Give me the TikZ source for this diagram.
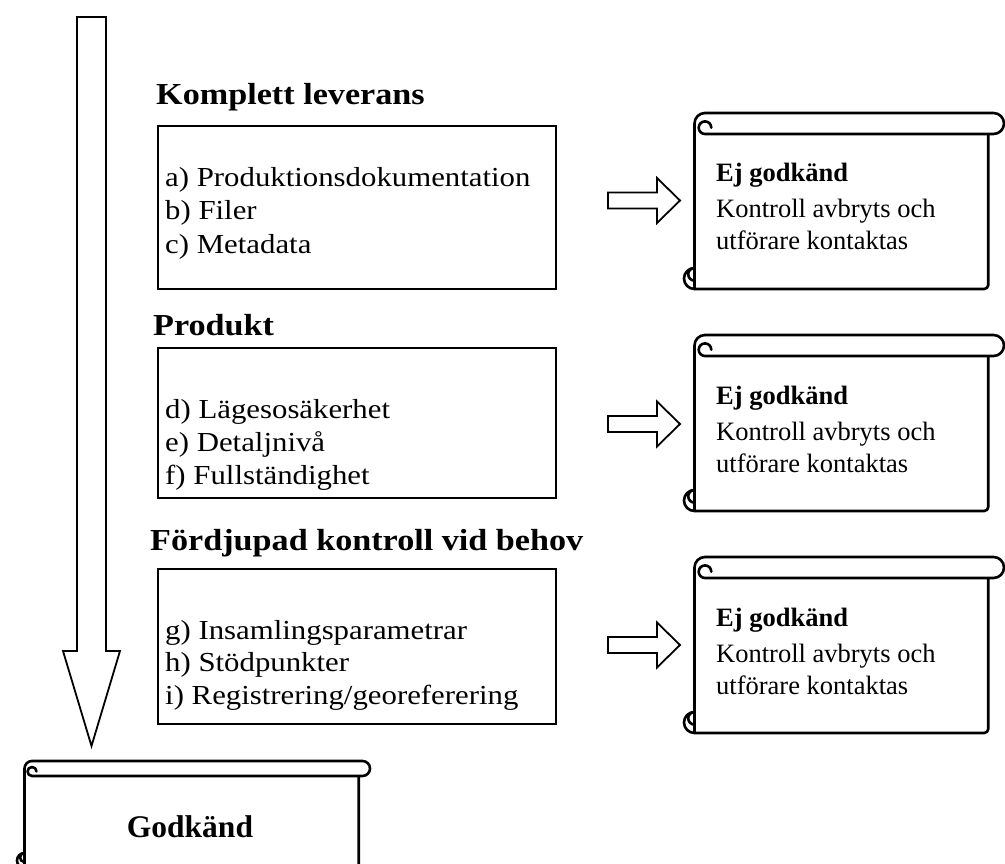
\documentclass[tikz,border=0pt]{standalone}
\usepackage{fontspec}
\setmainfont{Liberation Serif}
\newfontfamily\palfont{Liberation Serif}[FakeStretch=1.12]
\usetikzlibrary{calc}

% scroll outline: #1 left, #2 top, #3 right, #4 bottom, #5 roll height
\newcommand\drawscroll[5]{%
  \pgfmathsetmacro\sL{#1}\pgfmathsetmacro\sT{#2}%
  \pgfmathsetmacro\sR{#3}\pgfmathsetmacro\sB{#4}%
  \pgfmathsetmacro\sD{#5}\pgfmathsetmacro\sH{#5/2}\pgfmathsetmacro\sQ{#5*0.3}%
  \pgfmathsetmacro\sX{#3-0.75*#5}%
  % sheet
  \draw[scrollline, fill=white] (\sL+\sH,\sT+\sH) -- (\sL+\sH,\sB) -- (\sX-4,\sB)
      arc[start angle=90, end angle=0, radius=4] -- (\sX,\sT+\sD);
  % upper roll
  \draw[scrollline, fill=white] (\sL+\sD,\sT) -- (\sR-\sH,\sT)
      arc[start angle=270, end angle=450, radius=\sH] -- (\sL+\sD,\sT+\sD)
      arc[start angle=90, end angle=360, radius=\sQ];
  \draw[scrollline] (\sL+\sD,\sT) arc[start angle=270, end angle=180, radius=\sH];
  % lower roll end
  \draw[scrollline] (\sL+\sH,\sB-\sD) arc[start angle=270, end angle=90, radius=\sH];
  \draw[scrollline] (\sL+\sH,\sB-\sD) arc[start angle=270, end angle=90, radius=\sQ];
}

% right-pointing block arrow with its tip at (#1,#2)
\newcommand\rightblock[2]{%
  \draw[blockline, fill=white] (#1-72,#2-8) -- (#1-23,#2-8) -- (#1-23,#2-22.5)
    -- (#1,#2) -- (#1-23,#2+22.5) -- (#1-23,#2+8) -- (#1-72,#2+8) -- cycle;
}

\tikzset{
  scrollline/.style={line width=2.6pt, line join=round, line cap=round},
  blockline/.style={line width=1.8pt, line join=miter},
  box/.style={draw, line width=1.8pt, anchor=north west, inner sep=0pt},
  head/.style={font=\palfont\bfseries\fontsize{30.5}{36}\selectfont, anchor=base west, inner sep=0pt},
  item/.style={font=\palfont\fontsize{27.5}{33}\selectfont, anchor=base west, inner sep=0pt},
  sctitle/.style={font=\bfseries\fontsize{26.5}{31}\selectfont, anchor=base west, inner sep=0pt},
  sctext/.style={font=\fontsize{26.5}{31}\selectfont, anchor=base west, inner sep=0pt},
}

\begin{document}
\begin{tikzpicture}[x=1pt, y=1pt, yscale=-1]
\useasboundingbox (0,0) rectangle (1005,864);

% long downward arrow
\draw[blockline, fill=white] (77,17) -- (106,17) -- (106,651) -- (120,651)
  -- (91.5,746) -- (63,651) -- (77,651) -- cycle;

% headings
\node[head] (h1) at (156,105) {Komplett leverans};
\node[head] (h2) at (153,335) {Produkt};
\node[head] (h3) at (150,550) {Fördjupad kontroll vid behov};

% check boxes
\node[box, minimum width=398pt, minimum height=163pt] (b1) at (157,125) {};
\node[box, minimum width=398pt, minimum height=150pt] (b2) at (157,347) {};
\node[box, minimum width=398pt, minimum height=155pt] (b3) at (157,568) {};

\node[item] (a) at (165,187) {a) Produktionsdokumentation};
\node[item] (b) at (165,220) {b) Filer};
\node[item] (c) at (165,253) {c) Metadata};
\node[item] (d) at (165,418) {d) Lägesosäkerhet};
\node[item] (e) at (165,451) {e) Detaljnivå};
\node[item] (f) at (165,484) {f) Fullständighet};
\node[item] (g) at (165,639) {g) Insamlingsparametrar};
\node[item] (h) at (165,671) {h) Stödpunkter};
\node[item] (i) at (165,704) {i) Registrering/georeferering};

% arrows towards the rejection scrolls
\rightblock{680}{200.5}
\rightblock{680}{424}
\rightblock{680}{645}

% rejection scrolls
\drawscroll{684}{113}{1004}{289}{21}
\drawscroll{684}{335}{1004}{511}{21}
\drawscroll{684}{557}{1004}{733}{21}

\foreach \n/\dy in {1/0, 2/222, 3/444}{
  \node[sctitle] (ej\n) at (716,182+\dy) {Ej godkänd};
  \node[sctext] (k\n) at (716,218+\dy) {Kontroll avbryts och};
  \node[sctext] (u\n) at (716,250+\dy) {utförare kontaktas};
}

% approval scroll
\drawscroll{17}{761}{370}{868}{15}
\node[font=\bfseries\fontsize{31.5}{36}\selectfont, anchor=base, inner sep=0pt] (ok) at (190,837) {Godkänd};
\end{tikzpicture}
\end{document}
